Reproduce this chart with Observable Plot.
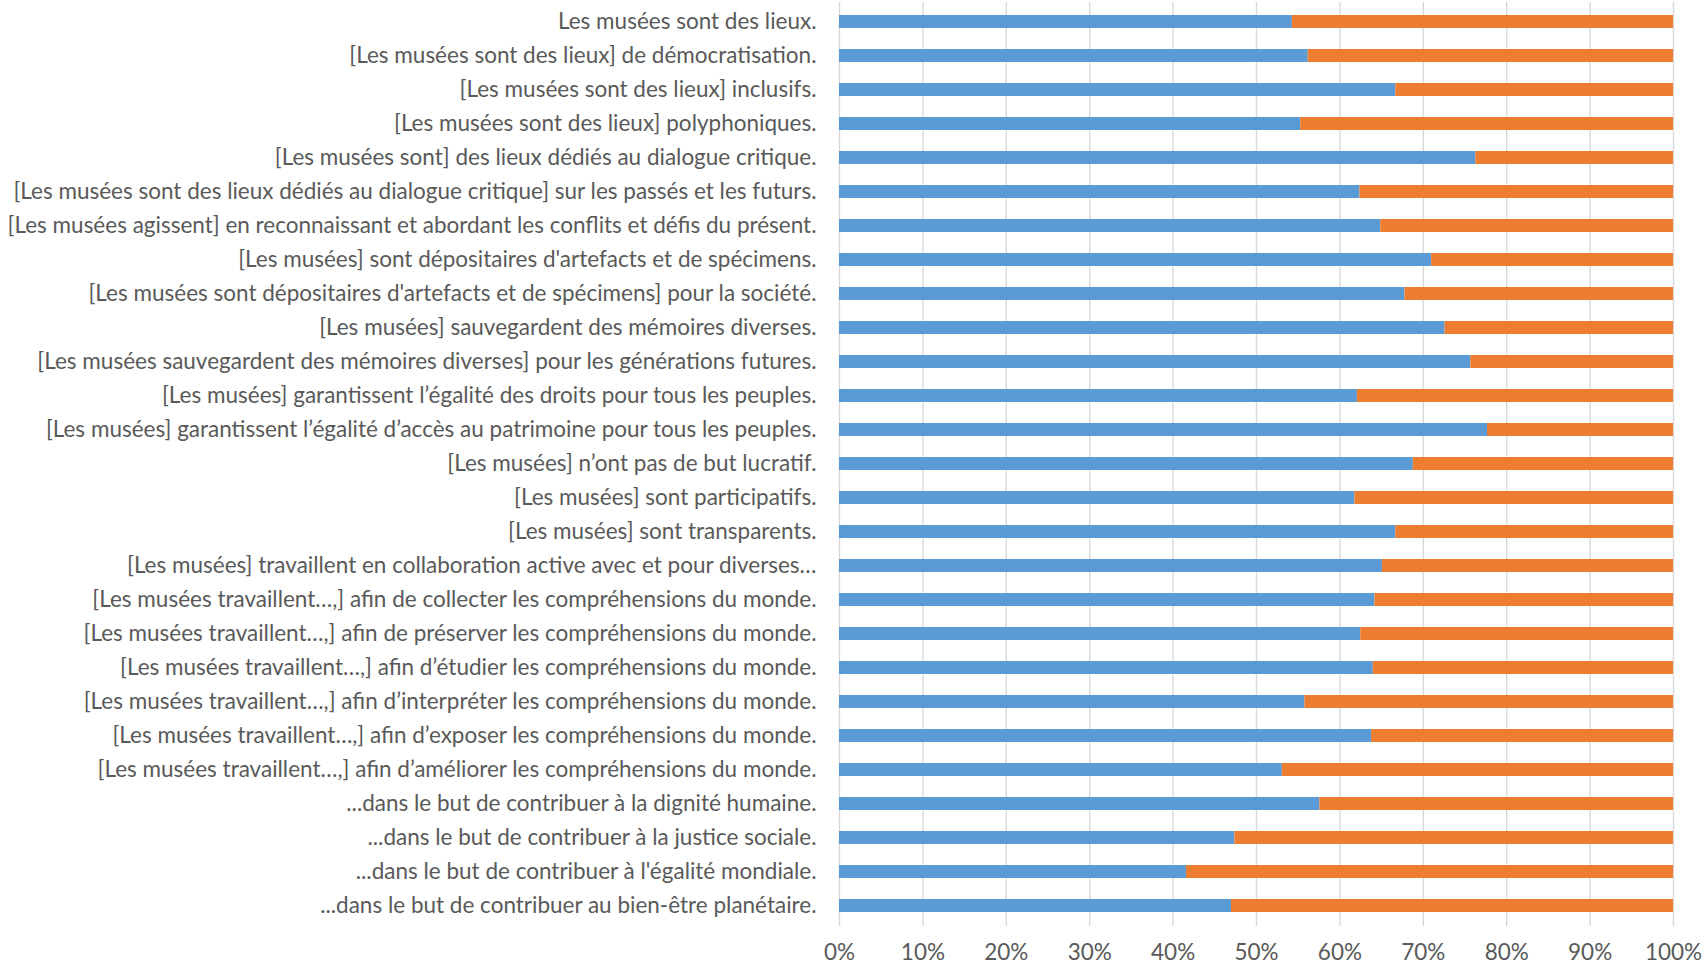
<!DOCTYPE html>
<html>
<head>
<meta charset="utf-8">
<script src="https://cdn.jsdelivr.net/npm/d3@7"></script>
<script src="https://cdn.jsdelivr.net/npm/@observablehq/plot@0.6"></script>
<style>
  html, body { margin: 0; padding: 0; background: #ffffff; }
  #chart { width: 1708px; height: 966px; }
</style>
</head>
<body>
<div id="chart"></div>
<script>
const categories = [
  "Les musées sont des lieux.",
  "[Les musées sont des lieux] de démocratisation.",
  "[Les musées sont des lieux] inclusifs.",
  "[Les musées sont des lieux] polyphoniques.",
  "[Les musées sont] des lieux dédiés au dialogue critique.",
  "[Les musées sont des lieux dédiés au dialogue critique] sur les passés et les futurs.",
  "[Les musées agissent] en reconnaissant et abordant les conflits et défis du présent.",
  "[Les musées] sont dépositaires d'artefacts et de spécimens.",
  "[Les musées sont dépositaires d'artefacts et de spécimens] pour la société.",
  "[Les musées] sauvegardent des mémoires diverses.",
  "[Les musées sauvegardent des mémoires diverses] pour les générations futures.",
  "[Les musées] garantissent l’égalité des droits pour tous les peuples.",
  "[Les musées] garantissent l’égalité d’accès au patrimoine pour tous les peuples.",
  "[Les musées] n’ont pas de but lucratif.",
  "[Les musées] sont participatifs.",
  "[Les musées] sont transparents.",
  "[Les musées] travaillent en collaboration active avec et pour diverses…",
  "[Les musées travaillent…,] afin de collecter les compréhensions du monde.",
  "[Les musées travaillent…,] afin de préserver les compréhensions du monde.",
  "[Les musées travaillent…,] afin d’étudier les compréhensions du monde.",
  "[Les musées travaillent…,] afin d’interpréter les compréhensions du monde.",
  "[Les musées travaillent…,] afin d’exposer les compréhensions du monde.",
  "[Les musées travaillent…,] afin d’améliorer les compréhensions du monde.",
  "...dans le but de contribuer à la dignité humaine.",
  "...dans le but de contribuer à la justice sociale.",
  "...dans le but de contribuer à l'égalité mondiale.",
  "...dans le but de contribuer au bien-être planétaire."
];

// Share of the first (blue) series, in percent; the second (orange) series is the remainder to 100%.
const seriesA = [54.3, 56.2, 66.7, 55.3, 76.3, 62.4, 64.9, 71.0, 67.8, 72.6,
                 75.7, 62.1, 77.7, 68.8, 61.8, 66.7, 65.1, 64.2, 62.5, 64.0,
                 55.8, 63.8, 53.1, 57.6, 47.4, 41.6, 47.0];

const xTicks = [0, 0.1, 0.2, 0.3, 0.4, 0.5, 0.6, 0.7, 0.8, 0.9, 1.0];

const colorA = "#5B9BD5";
const colorB = "#ED7D31";

const rows = [];
categories.forEach((c, i) => {
  rows.push({label: c, series: "A", start: 0, end: seriesA[i] / 100});
  rows.push({label: c, series: "B", start: seriesA[i] / 100, end: 1});
});

const chart = Plot.plot({
  width: 1708,
  height: 966,
  marginLeft: 839,
  marginRight: 35,
  marginTop: 2,
  marginBottom: 40,
  style: {fontFamily: "Lato, 'Open Sans', sans-serif", fontSize: "22.5px", color: "#595959", background: "#ffffff"},
  x: {domain: [0, 1], ticks: xTicks, tickFormat: d3.format(".0%"), label: null},
  y: {domain: categories, paddingInner: 0.61, paddingOuter: 0.305, label: null},
  marks: [
    Plot.gridX(xTicks, {stroke: "#d9d9d9", strokeOpacity: 1, strokeWidth: 1.4}),
    Plot.barX(rows, {
      x1: "start", x2: "end", y: "label",
      fill: d => d.series === "A" ? colorA : colorB
    }),
    Plot.axisX(xTicks, {tickSize: 0, tickPadding: 18, tickFormat: d3.format(".0%"), fontSize: 22.5, fill: "#595959"}),
    Plot.axisY({tickSize: 0, tickPadding: 23, fontSize: 22.5, fill: "#595959"})
  ]
});

document.getElementById("chart").appendChild(chart);
</script>
</body>
</html>
